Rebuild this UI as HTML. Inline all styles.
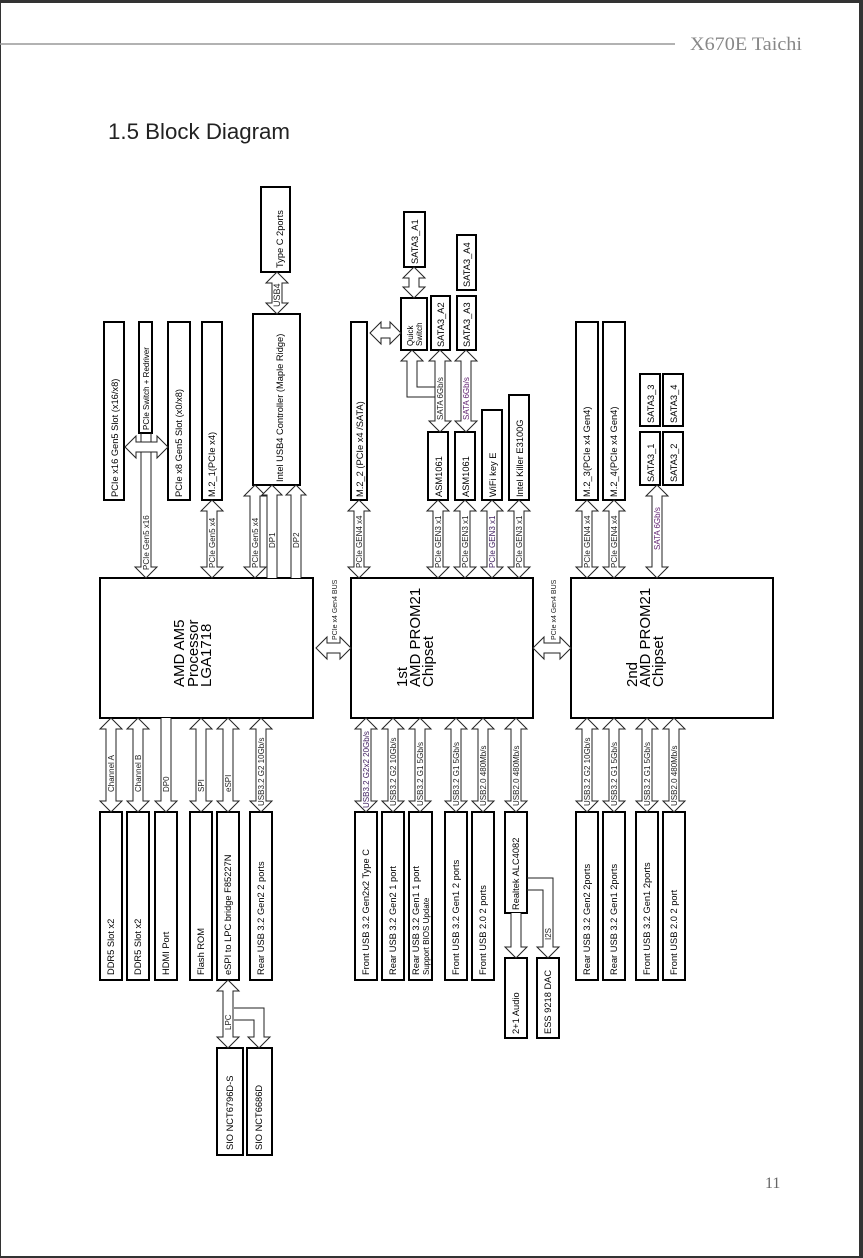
<!DOCTYPE html>
<html><head><meta charset="utf-8"><style>
html,body{margin:0;padding:0;background:#fff}
svg{display:block}
.b{fill:#fff;stroke:#000;stroke-width:2}
.a{fill:#fff;stroke:#222;stroke-width:1}
.t{font-family:"Liberation Sans",sans-serif;font-size:9.3px;fill:#000}
.s{font-family:"Liberation Sans",sans-serif;font-size:8px;fill:#222}
.c{font-family:"Liberation Sans",sans-serif;font-size:15px;fill:#000}
</style></head><body>
<svg width="863" height="1258" viewBox="0 0 863 1258" xmlns="http://www.w3.org/2000/svg">
<rect x="0" y="0" width="863" height="1258" fill="#fff"/>
<rect x="0" y="0" width="863" height="3" fill="#333"/>
<rect x="859" y="0" width="4" height="1258" fill="#333"/>
<rect x="0" y="0" width="1" height="1258" fill="#333"/>
<rect x="0" y="1256" width="863" height="2" fill="#333"/>
<line x1="0" y1="44" x2="675" y2="44" stroke="#999" stroke-width="1.5"/>
<text x="690" y="50" font-family="Liberation Serif,serif" font-size="19" fill="#888" textLength="112" lengthAdjust="spacingAndGlyphs">X670E Taichi</text>
<text x="108" y="139" font-family="Liberation Sans,sans-serif" font-size="22" fill="#222" textLength="182" lengthAdjust="spacingAndGlyphs">1.5  Block Diagram</text>
<text x="765" y="1188" font-family="Liberation Serif,serif" font-size="16" fill="#666">11</text>

<!-- main chips -->
<rect class="b" x="100" y="578" width="213" height="140"/>
<rect class="b" x="351" y="578" width="182" height="140"/>
<rect class="b" x="571" y="578" width="202" height="140"/>
<g class="c">
<text transform="translate(184,687) rotate(-90)">AMD AM5</text>
<text transform="translate(198,687) rotate(-90)">Processor</text>
<text transform="translate(211,687) rotate(-90)">LGA1718</text>
<text transform="translate(407,687) rotate(-90)">1st</text>
<text transform="translate(420,687) rotate(-90)">AMD PROM21</text>
<text transform="translate(433,687) rotate(-90)">Chipset</text>
<text transform="translate(637,687) rotate(-90)">2nd</text>
<text transform="translate(650,687) rotate(-90)">AMD PROM21</text>
<text transform="translate(663,687) rotate(-90)">Chipset</text>
</g>

<!-- top boxes -->
<g class="b">
<rect x="104" y="322" width="20" height="178"/>
<rect x="139" y="322" width="13" height="111"/>
<rect x="168" y="322" width="22" height="178"/>
<rect x="202" y="322" width="20" height="178"/>
<rect x="253" y="314" width="47" height="171"/>
<rect x="261" y="187" width="29" height="85"/>
<rect x="351" y="322" width="16" height="178"/>
<rect x="404" y="212" width="21" height="55"/>
<rect x="401" y="298" width="26" height="52"/>
<rect x="431" y="296" width="19" height="54"/>
<rect x="457" y="296" width="19" height="54"/>
<rect x="457" y="235" width="19" height="55"/>
<rect x="428" y="432" width="20" height="68"/>
<rect x="455" y="432" width="20" height="68"/>
<rect x="482" y="410" width="20" height="90"/>
<rect x="509" y="395" width="20" height="105"/>
<rect x="576" y="322" width="22" height="178"/>
<rect x="603" y="322" width="22" height="178"/>
<rect x="640" y="432" width="20" height="53"/>
<rect x="663" y="432" width="20" height="53"/>
<rect x="640" y="374" width="20" height="52"/>
<rect x="663" y="374" width="20" height="52"/>
</g>
<g class="t">
<text transform="translate(118,497) rotate(-90)">PCIe x16 Gen5 Slot  (x16/x8)</text>
<text transform="translate(149,430) rotate(-90)" font-size="8">PCIe Switch + Redriver</text>
<text transform="translate(182,497) rotate(-90)">PCIe x8 Gen5 Slot  (x0/x8)</text>
<text transform="translate(215,497) rotate(-90)">M.2_1(PCIe x4)</text>
<text transform="translate(283,482) rotate(-90)">Intel USB4 Controller (Maple Ridge)</text>
<text transform="translate(283,268) rotate(-90)">Type C 2ports</text>
<text transform="translate(363,497) rotate(-90)">M.2_2 (PCIe x4 /SATA)</text>
<text transform="translate(418,264) rotate(-90)">SATA3_A1</text>
<text transform="translate(413,346) rotate(-90)" font-size="8">Quick</text>
<text transform="translate(422,346) rotate(-90)" font-size="8">Switch</text>
<text transform="translate(444,347) rotate(-90)">SATA3_A2</text>
<text transform="translate(470,347) rotate(-90)">SATA3_A3</text>
<text transform="translate(470,287) rotate(-90)">SATA3_A4</text>
<text transform="translate(442,497) rotate(-90)">ASM1061</text>
<text transform="translate(469,497) rotate(-90)">ASM1061</text>
<text transform="translate(496,497) rotate(-90)">WiFi key E</text>
<text transform="translate(523,497) rotate(-90)">Intel Killer E3100G</text>
<text transform="translate(590,497) rotate(-90)">M.2_3(PCIe x4 Gen4)</text>
<text transform="translate(617,497) rotate(-90)">M.2_4(PCIe x4 Gen4)</text>
<text transform="translate(654,482) rotate(-90)">SATA3_1</text>
<text transform="translate(677,482) rotate(-90)">SATA3_2</text>
<text transform="translate(654,423) rotate(-90)">SATA3_3</text>
<text transform="translate(677,423) rotate(-90)">SATA3_4</text>
</g>

<!-- top arrows -->
<g class="a">
<path d="M141,452 V567 h-6 l11,11 l11,-11 h-6 V452"/>
<path d="M125,447 l11,-11 v6 H157 v-6 l11,11 l-11,11 v-6 H136 v6 z"/>
<path d="M141,433 V442 M151,433 V442"/>
<path d="M212,500 l11,11 h-6 V567 h6 l-11,11 l-11,-11 h6 V511 h-6 z"/>
<path d="M255,485 l11,11 h-6 V567 h6 l-11,11 l-11,-11 h6 V496 h-6 z"/>
<path d="M267,578 V495 h-5 l10,-10 l10,10 h-5 V578"/>
<path d="M291,578 V495 h-5 l10,-10 l10,10 h-5 V578"/>
<path d="M277,272 l11,11 h-6 V303 h6 l-11,11 l-11,-11 h6 V283 h-6 z"/>
<path d="M359,500 l11,11 h-6 V567 h6 l-11,11 l-11,-11 h6 V511 h-6 z"/>
<path d="M438,500 l11,11 h-6 V567 h6 l-11,11 l-11,-11 h6 V511 h-6 z"/>
<path d="M465,500 l11,11 h-6 V567 h6 l-11,11 l-11,-11 h6 V511 h-6 z"/>
<path d="M492,500 l11,11 h-6 V567 h6 l-11,11 l-11,-11 h6 V511 h-6 z"/>
<path d="M519,500 l11,11 h-6 V567 h6 l-11,11 l-11,-11 h6 V511 h-6 z"/>
<path d="M414,267 l11,11 h-6 V287 h6 l-11,11 l-11,-11 h6 V278 h-6 z"/>
<path d="M370,333 l11,-11 v6 H390 v-6 l11,11 l-11,11 v-6 H381 v6 z"/>
<path d="M440,350 l11,11 h-6 V421 h6 l-11,11 l-11,-11 h6 V361 h-6 z"/>
<path d="M466,350 l11,11 h-6 V421 h6 l-11,11 l-11,-11 h6 V361 h-6 z"/>
<path d="M435,397 H407 V361 h-6 l11,-11 l11,11 h-6 V387 H435" fill="none"/>
<path d="M587,500 l11,11 h-6 V567 h6 l-11,11 l-11,-11 h6 V511 h-6 z"/>
<path d="M614,500 l11,11 h-6 V567 h6 l-11,11 l-11,-11 h6 V511 h-6 z"/>
<path d="M657,485 l11,11 h-6 V567 h6 l-11,11 l-11,-11 h6 V496 h-6 z"/>
<path d="M316,648 l11,-11 v6 H340 v-6 l11,11 l-11,11 v-6 H327 v6 z"/>
<path d="M533,648 l11,-11 v6 H560 v-6 l11,11 l-11,11 v-6 H544 v6 z"/>
</g>
<g class="s">
<text transform="translate(149,570) rotate(-90)">PCIe Gen5 x16</text>
<text transform="translate(215,568) rotate(-90)">PCIe Gen5 x4</text>
<text transform="translate(258,568) rotate(-90)">PCIe Gen5 x4</text>
<text transform="translate(275,548) rotate(-90)">DP1</text>
<text transform="translate(299,548) rotate(-90)">DP2</text>
<text transform="translate(280,307) rotate(-90)" font-size="9">USB4</text>
<text transform="translate(362,568) rotate(-90)">PCIe GEN4   x4</text>
<text transform="translate(441,568) rotate(-90)">PCIe GEN3   x1</text>
<text transform="translate(468,568) rotate(-90)">PCIe GEN3   x1</text>
<text transform="translate(495,568) rotate(-90)" fill="#402060">PCIe GEN3   x1</text>
<text transform="translate(522,568) rotate(-90)">PCIe GEN3   x1</text>
<text transform="translate(443,420) rotate(-90)">SATA 6Gb/s</text>
<text transform="translate(469,420) rotate(-90)" fill="#602070">SATA 6Gb/s</text>
<text transform="translate(590,568) rotate(-90)">PCIe GEN4   x4</text>
<text transform="translate(617,568) rotate(-90)">PCIe GEN4   x4</text>
<text transform="translate(660,550) rotate(-90)" fill="#602070">SATA 6Gb/s</text>
<text transform="translate(337,640) rotate(-90)" font-size="7">PCIe x4 Gen4 BUS</text>
<text transform="translate(556,640) rotate(-90)" font-size="7">PCIe x4 Gen4 BUS</text>
</g>

<!-- bottom boxes -->
<g class="b">
<rect x="100" y="812" width="22" height="168"/>
<rect x="127" y="812" width="22" height="168"/>
<rect x="155" y="812" width="22" height="168"/>
<rect x="190" y="812" width="22" height="168"/>
<rect x="217" y="812" width="22" height="168"/>
<rect x="250" y="812" width="22" height="168"/>
<rect x="217" y="1048" width="26" height="107"/>
<rect x="247" y="1048" width="25" height="107"/>
<rect x="355" y="812" width="22" height="168"/>
<rect x="382" y="812" width="22" height="168"/>
<rect x="409" y="812" width="23" height="168"/>
<rect x="445" y="812" width="22" height="168"/>
<rect x="472" y="812" width="22" height="168"/>
<rect x="505" y="812" width="22" height="101"/>
<rect x="505" y="958" width="22" height="80"/>
<rect x="537" y="958" width="22" height="80"/>
<rect x="576" y="812" width="22" height="168"/>
<rect x="603" y="812" width="22" height="168"/>
<rect x="636" y="812" width="22" height="168"/>
<rect x="663" y="812" width="22" height="168"/>
</g>
<g class="t">
<text transform="translate(114,975) rotate(-90)">DDR5 Slot x2</text>
<text transform="translate(141,975) rotate(-90)">DDR5 Slot x2</text>
<text transform="translate(169,975) rotate(-90)">HDMI Port</text>
<text transform="translate(204,975) rotate(-90)">Flash ROM</text>
<text transform="translate(231,975) rotate(-90)">eSPI to LPC bridge F85227N</text>
<text transform="translate(264,975) rotate(-90)">Rear USB 3.2 Gen2 2 ports</text>
<text transform="translate(233,1150) rotate(-90)">SIO NCT6796D-S</text>
<text transform="translate(262,1150) rotate(-90)">SIO NCT6686D</text>
<text transform="translate(369,975) rotate(-90)">Front USB 3.2 Gen2x2 Type C</text>
<text transform="translate(396,975) rotate(-90)">Rear USB 3.2 Gen2 1 port</text>
<text transform="translate(419,975) rotate(-90)">Rear USB 3.2 Gen1 1 port</text>
<text transform="translate(429,975) rotate(-90)" font-size="8">Support BIOS Update</text>
<text transform="translate(459,975) rotate(-90)">Front USB 3.2 Gen1 2 ports</text>
<text transform="translate(486,975) rotate(-90)">Front USB 2.0 2 ports</text>
<text transform="translate(519,910) rotate(-90)">Realtek ALC4082</text>
<text transform="translate(519,1034) rotate(-90)">2+1 Audio</text>
<text transform="translate(551,1034) rotate(-90)">ESS 9218 DAC</text>
<text transform="translate(590,975) rotate(-90)">Rear USB 3.2 Gen2 2ports</text>
<text transform="translate(617,975) rotate(-90)">Rear USB 3.2 Gen1 2ports</text>
<text transform="translate(650,975) rotate(-90)">Front USB 3.2 Gen1 2ports</text>
<text transform="translate(677,975) rotate(-90)">Front USB 2.0 2 port</text>
</g>

<!-- bottom arrows -->
<g class="a">
<path d="M111,718 l11,11 h-6 V801 h6 l-11,11 l-11,-11 h6 V729 h-6 z"/>
<path d="M138,718 l11,11 h-6 V801 h6 l-11,11 l-11,-11 h6 V729 h-6 z"/>
<path d="M161,718 V801 h-6 l11,11 l11,-11 h-6 V718"/>
<path d="M201,718 l11,11 h-6 V801 h6 l-11,11 l-11,-11 h6 V729 h-6 z"/>
<path d="M228,718 l11,11 h-6 V801 h6 l-11,11 l-11,-11 h6 V729 h-6 z"/>
<path d="M261,718 l11,11 h-6 V801 h6 l-11,11 l-11,-11 h6 V729 h-6 z"/>
<path d="M234,1008 H264 V1037 h6 l-11,11 l-11,-11 h6 V1020 H234" fill="none"/>
<path d="M228,980 l11,11 h-6 V1037 h6 l-11,11 l-11,-11 h6 V991 h-6 z"/>
<path d="M366,718 l11,11 h-6 V801 h6 l-11,11 l-11,-11 h6 V729 h-6 z"/>
<path d="M393,718 l11,11 h-6 V801 h6 l-11,11 l-11,-11 h6 V729 h-6 z"/>
<path d="M420,718 l11,11 h-6 V801 h6 l-11,11 l-11,-11 h6 V729 h-6 z"/>
<path d="M456,718 l11,11 h-6 V801 h6 l-11,11 l-11,-11 h6 V729 h-6 z"/>
<path d="M483,718 l11,11 h-6 V801 h6 l-11,11 l-11,-11 h6 V729 h-6 z"/>
<path d="M516,718 l11,11 h-6 V801 h6 l-11,11 l-11,-11 h6 V729 h-6 z"/>
<path d="M511,913 V947 h-6 l11,11 l11,-11 h-6 V913"/>
<path d="M527,878 H553 V947 h6 l-11,11 l-11,-11 h6 V890 H527" fill="none"/>
<path d="M587,718 l11,11 h-6 V801 h6 l-11,11 l-11,-11 h6 V729 h-6 z"/>
<path d="M614,718 l11,11 h-6 V801 h6 l-11,11 l-11,-11 h6 V729 h-6 z"/>
<path d="M647,718 l11,11 h-6 V801 h6 l-11,11 l-11,-11 h6 V729 h-6 z"/>
<path d="M674,718 l11,11 h-6 V801 h6 l-11,11 l-11,-11 h6 V729 h-6 z"/>
</g>
<g class="s">
<text transform="translate(114,792) rotate(-90)">Channel A</text>
<text transform="translate(141,792) rotate(-90)">Channel B</text>
<text transform="translate(169,792) rotate(-90)">DP0</text>
<text transform="translate(204,792) rotate(-90)">SPI</text>
<text transform="translate(231,792) rotate(-90)">eSPI</text>
<text transform="translate(264,806) rotate(-90)">USB3.2 G2   10Gb/s</text>
<text transform="translate(231,1030) rotate(-90)">LPC</text>
<text transform="translate(369,808) rotate(-90)" fill="#402060">USB3.2 G2x2  20Gb/s</text>
<text transform="translate(396,806) rotate(-90)">USB3.2 G2   10Gb/s</text>
<text transform="translate(423,806) rotate(-90)">USB3.2 G1    5Gb/s</text>
<text transform="translate(459,806) rotate(-90)">USB3.2 G1    5Gb/s</text>
<text transform="translate(486,806) rotate(-90)">USB2.0    480Mb/s</text>
<text transform="translate(519,806) rotate(-90)">USB2.0    480Mb/s</text>
<text transform="translate(551,940) rotate(-90)">I2S</text>
<text transform="translate(590,806) rotate(-90)">USB3.2 G2   10Gb/s</text>
<text transform="translate(617,806) rotate(-90)">USB3.2 G1    5Gb/s</text>
<text transform="translate(650,806) rotate(-90)">USB3.2 G1    5Gb/s</text>
<text transform="translate(677,806) rotate(-90)">USB2.0    480Mb/s</text>
</g>
</svg>
</body></html>
